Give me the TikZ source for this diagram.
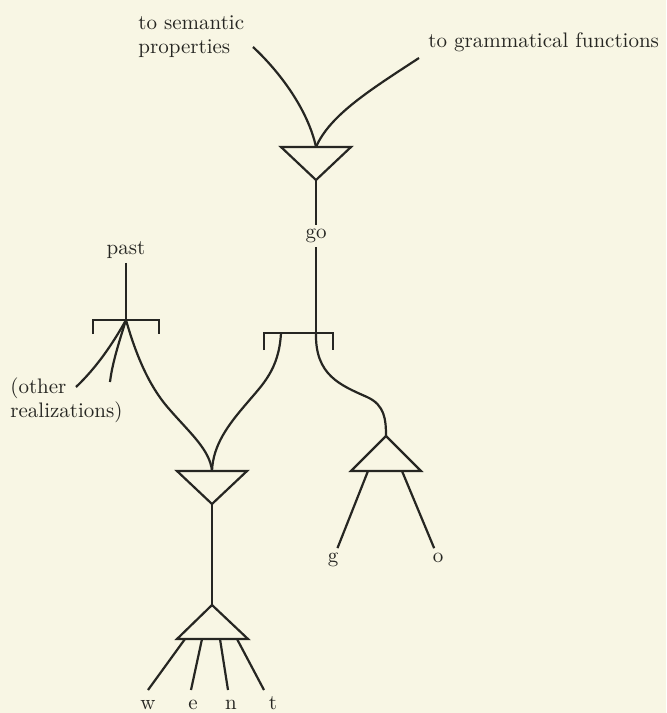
\documentclass[tikz,border=0pt]{standalone}
\usepackage{tikz}
\definecolor{paper}{RGB}{248,246,228}
\definecolor{ink}{RGB}{38,38,34}

\begin{document}
\begin{tikzpicture}[x=0.5pt,y=-0.5pt,
    ln/.style={ink, line width=1.1pt},
    lbl/.style={ink, font=\fontsize{10.5}{12}\selectfont, inner sep=2pt}]
	\def\tw{35}
	\def\th{33}

	% paper
	\fill[paper] (0,0) rectangle (666,713);
	\useasboundingbox (0,0) rectangle (666,713);

	% top: go and its two links
	\node[lbl, align=left, anchor=west] (sem) at (134,37) {to semantic\\properties};
	\node[lbl, anchor=west] (gram) at (424,42) {to grammatical functions};
	\coordinate (semS) at (253,47);
	\coordinate (gramS) at (419,58);
	\coordinate (topJ) at (316,147);
	\coordinate (topA) at (316,147+\th);

	\draw[ln] (semS) .. controls (280,72) and (308,110) .. (topJ);
	\draw[ln] (gramS) .. controls (370,90) and (330,115) .. (topJ);
	\draw[ln] (316-\tw,147) -- (316+\tw,147) -- (topA) -- cycle;

	\node[lbl] (go) at (316,236) {go};
	\coordinate (goJ) at (316,333);
	\coordinate (goL) at (281,333);
	\draw[ln] (topA) -- (go);
	\draw[ln] (go) -- (goJ);
	\draw[ln] (264,350) -- (264,333) -- (333,333) -- (333,350);

	% past
	\node[lbl] (past) at (126,250) {past};
	\coordinate (pastJ) at (126,320);
	\draw[ln] (past) -- (pastJ);
	\draw[ln] (93,334) -- (93,320) -- (159,320) -- (159,334);

	\node[lbl, align=left, anchor=west] (other) at (6,400) {(other\\realizations)};
	\coordinate (othA) at (76,387);
	\coordinate (othB) at (110,382);
	\draw[ln] (pastJ) .. controls (112,345) and (96,368) .. (othA);
	\draw[ln] (pastJ) .. controls (118,345) and (112,365) .. (othB);

	% went
	\coordinate (wentJ) at (212,471);
	\coordinate (wentA) at (212,471+\th);
	\coordinate (spellA) at (212,605);
	\draw[ln] (pastJ) .. controls (138,362) and (152,390) .. (170,410)
		.. controls (190,433) and (210,450) .. (wentJ);
	\draw[ln] (goL) .. controls (279,370) and (262,385) .. (247,403)
		.. controls (228,425) and (213,445) .. (wentJ);
	\draw[ln] (212-\tw,471) -- (212+\tw,471) -- (wentA) -- cycle;
	\draw[ln] (wentA) -- (spellA);
	\draw[ln] (spellA) -- (213+\tw,639) -- (212-\tw,639) -- cycle;

	\foreach \bx/\ex/\lx/\ch in {185/148/148/w, 202/191/193/e, 220/228/231/n, 237/264/273/t} {
		\coordinate (end\ch) at (\ex,690);
		\node[lbl, anchor=base, inner sep=0.5pt] (let\ch) at (\lx,709) {\ch};
		\draw[ln] (\bx,639) -- (end\ch);
	}

	% go as g + o
	\coordinate (gA) at (386,436);
	\draw[ln] (goJ) .. controls (315,375) and (340,385) .. (367,397)
		.. controls (385,405) and (386,420) .. (gA);
	\draw[ln] (gA) -- (386+\tw,471) -- (386-\tw,471) -- cycle;

	\node[lbl, anchor=base] (g) at (333,562) {g};
	\node[lbl, anchor=base] (o) at (438,562) {o};
	\draw[ln] (368,471) -- (g);
	\draw[ln] (402,471) -- (o);

\end{tikzpicture}
\end{document}
